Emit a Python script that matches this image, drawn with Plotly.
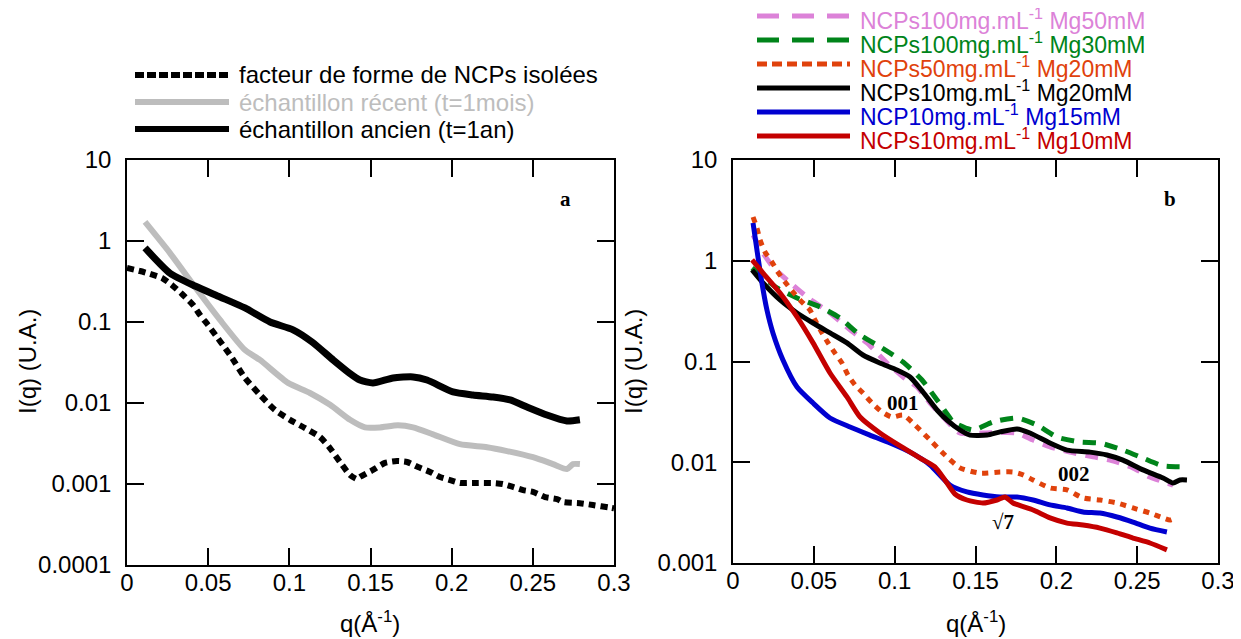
import plotly.graph_objects as go

# ---------------- Panel a data ----------------
q_form = [0.0, 0.008, 0.0142, 0.0216, 0.0277, 0.0339, 0.0407, 0.045, 0.0499, 0.0554, 0.0604, 0.0647,
          0.0727, 0.0819, 0.0912, 0.1004, 0.1097, 0.1189, 0.125, 0.1312, 0.1374, 0.1417, 0.1435,
          0.1515, 0.1589, 0.1663, 0.1725, 0.1793, 0.1867, 0.1928, 0.199, 0.2051, 0.2131, 0.2255,
          0.2316, 0.2378, 0.244, 0.2501, 0.2575, 0.2649, 0.2686, 0.279, 0.287, 0.2975, 0.3]
I_form = [0.464, 0.426, 0.392, 0.349, 0.286, 0.222, 0.162, 0.122, 0.0918, 0.0653, 0.0478, 0.036,
          0.0204, 0.0126, 0.0082, 0.0062, 0.0049, 0.0038, 0.00278, 0.00187, 0.00129, 0.00115, 0.00122,
          0.00149, 0.00182, 0.00192, 0.00187, 0.00162, 0.00141, 0.00122, 0.00112, 0.00103, 0.00103, 0.00103,
          0.0010, 0.00092, 0.00084, 0.0008, 0.00069, 0.00065, 0.0006, 0.00058, 0.00055, 0.00051, 0.0005]

q_recent = [0.0111, 0.0265, 0.0419, 0.0573, 0.0727, 0.0819, 0.0992, 0.1127, 0.1251, 0.1374, 0.1466,
            0.1558, 0.1669, 0.1762, 0.1885, 0.2051, 0.2218, 0.2341, 0.2501, 0.2624, 0.271, 0.2747, 0.279]
I_recent = [1.72, 0.71, 0.27, 0.106, 0.045, 0.034, 0.0177, 0.0133, 0.0095, 0.0062, 0.0050,
            0.0050, 0.0053, 0.0050, 0.0041, 0.0031, 0.00285, 0.00255, 0.00214, 0.00176, 0.00153, 0.00176, 0.00176]

q_ancien = [0.0111, 0.0265, 0.0419, 0.0573, 0.0727, 0.0881, 0.1023, 0.114, 0.127, 0.137, 0.1435, 0.1515,
            0.1639, 0.1762, 0.1848, 0.2008, 0.2131, 0.2255, 0.236, 0.2464, 0.2587, 0.271, 0.279]
I_ancien = [0.82, 0.40, 0.278, 0.204, 0.149, 0.100, 0.080, 0.0566, 0.034, 0.0234, 0.0192, 0.0177,
            0.0204, 0.0210, 0.0192, 0.0137, 0.01256, 0.01186, 0.0109, 0.00893, 0.00711, 0.0060, 0.0062]

# ---------------- Panel b data ----------------
q_mg50 = [0.0124, 0.0186, 0.0247, 0.0334, 0.0458, 0.06, 0.0724, 0.0829, 0.0953, 0.1052, 0.1138, 0.1219,
          0.1299, 0.1404, 0.1546, 0.1757, 0.1856, 0.1961, 0.2084, 0.2227, 0.2332, 0.2474, 0.2579, 0.2722]
I_mg50 = [1.80, 1.19, 0.867, 0.644, 0.437, 0.303, 0.206, 0.153, 0.0967, 0.0702, 0.0558, 0.0387,
          0.0281, 0.0195, 0.0195, 0.0195, 0.0166, 0.0142, 0.0126, 0.0113, 0.0105, 0.0088, 0.00714, 0.00594]

q_mg30 = [0.0118, 0.0272, 0.0396, 0.0538, 0.0662, 0.0786, 0.0922, 0.1052, 0.1169, 0.1262, 0.1342, 0.1361,
          0.1485, 0.1608, 0.1757, 0.188, 0.2004, 0.2146, 0.227, 0.2412, 0.2536, 0.266, 0.2783]
I_mg30 = [0.847, 0.537, 0.427, 0.348, 0.270, 0.183, 0.136, 0.0989, 0.0655, 0.0415, 0.0275, 0.0251,
          0.0209, 0.0251, 0.0275, 0.0234, 0.0178, 0.0159, 0.0155, 0.0132, 0.0110, 0.0092, 0.0090]

q_50mg20 = [0.0124, 0.0148, 0.0167, 0.0198, 0.0241, 0.0278, 0.0322, 0.0371, 0.0414, 0.0476, 0.0507, 0.0551,
            0.0588, 0.0631, 0.0674, 0.0711, 0.0755, 0.0804, 0.086, 0.0922, 0.0983, 0.1052, 0.1126, 0.1219,
            0.1311, 0.1404, 0.1528, 0.1652, 0.1732, 0.1794, 0.1856, 0.1961, 0.2066, 0.2165, 0.227, 0.2375,
            0.2474, 0.2579, 0.266, 0.2703, 0.2746]
I_50mg20 = [2.72, 2.11, 1.61, 1.22, 0.97, 0.773, 0.615, 0.490, 0.408, 0.324, 0.258, 0.192,
            0.153, 0.121, 0.0967, 0.0735, 0.0585, 0.0486, 0.0387, 0.0315, 0.0281, 0.0294, 0.0234, 0.0166,
            0.0118, 0.0088, 0.0078, 0.0080, 0.0080, 0.0075, 0.00667, 0.00555, 0.00531, 0.00442, 0.00422, 0.00394,
            0.00352, 0.00313, 0.0028, 0.00267, 0.00286]

q_10mg20 = [0.0118, 0.0186, 0.0291, 0.0396, 0.0495, 0.06, 0.0705, 0.0804, 0.0909, 0.1014, 0.1095, 0.1175,
            0.1262, 0.1324, 0.1404, 0.1466, 0.1571, 0.1652, 0.1757, 0.1837, 0.1961, 0.2066, 0.2208, 0.2313,
            0.2412, 0.2536, 0.266, 0.2722, 0.2765, 0.2808]
I_10mg20 = [0.81, 0.601, 0.408, 0.303, 0.241, 0.192, 0.153, 0.116, 0.0967, 0.0824, 0.0702, 0.0498,
            0.033, 0.0262, 0.0209, 0.0186, 0.0186, 0.0200, 0.0214, 0.0195, 0.0155, 0.0132, 0.0126, 0.0118,
            0.0105, 0.0084, 0.00698, 0.00622, 0.00667, 0.00667]

q_mg15 = [0.0124, 0.0148, 0.0179, 0.021, 0.0247, 0.0309, 0.0396, 0.0495, 0.06, 0.0724, 0.0847, 0.0971,
          0.1095, 0.1219, 0.1342, 0.1447, 0.1546, 0.1652, 0.1757, 0.1856, 0.1961, 0.2066, 0.2165, 0.227,
          0.2375, 0.2474, 0.2579, 0.2684]
I_mg15 = [2.37, 1.28, 0.601, 0.324, 0.192, 0.1035, 0.0558, 0.0387, 0.0275, 0.0224, 0.0186, 0.0155,
          0.0126, 0.0094, 0.00594, 0.00507, 0.00473, 0.00452, 0.00452, 0.00422, 0.00377, 0.00352, 0.00321, 0.00313,
          0.00286, 0.00255, 0.00222, 0.00203]

q_mg10 = [0.0118, 0.0186, 0.0291, 0.0396, 0.0495, 0.06, 0.0705, 0.0786, 0.0909, 0.1033, 0.1157, 0.1249,
          0.1311, 0.1373, 0.1447, 0.1546, 0.1633, 0.1682, 0.1732, 0.1856, 0.1961, 0.2066, 0.2165, 0.227,
          0.2375, 0.2474, 0.2579, 0.2684]
I_mg10 = [1.02, 0.755, 0.479, 0.277, 0.153, 0.0769, 0.0445, 0.0281, 0.0195, 0.0145, 0.0110, 0.0090,
          0.00667, 0.00484, 0.00422, 0.00394, 0.00422, 0.00452, 0.00394, 0.00336, 0.0028, 0.00249, 0.00238, 0.00222,
          0.00199, 0.00177, 0.00158, 0.00135]

# tick labels
x_ticks = [0, 0.05, 0.1, 0.15, 0.2, 0.25, 0.3]
x_ticktext = ["0", "0.05", "0.1", "0.15", "0.2", "0.25", "0.3"]
ya_ticks = [10, 1, 0.1, 0.01, 0.001, 0.0001]
ya_ticktext = ["10", "1", "0.1", "0.01", "0.001", "0.0001"]
yb_ticks = [10, 1, 0.1, 0.01, 0.001]
yb_ticktext = ["10", "1", "0.1", "0.01", "0.001"]

legend_a = ["facteur de forme de NCPs isolées", "échantillon récent (t=1mois)", "échantillon ancien (t=1an)"]
legend_b = ["NCPs100mg.mL<sup>-1</sup> Mg50mM", "NCPs100mg.mL<sup>-1</sup> Mg30mM",
            "NCPs50mg.mL<sup>-1</sup> Mg20mM", "NCPs10mg.mL<sup>-1</sup> Mg20mM",
            "NCP10mg.mL<sup>-1</sup> Mg15mM", "NCPs10mg.mL<sup>-1</sup> Mg10mM"]

# the page draws the figure 8px in from the top-left corner: shift layout positions to compensate
OFF = 8
W, H = 1241, 639
FONT = "Liberation Sans, Arial, sans-serif"
SERIF = "Liberation Serif, Times New Roman, serif"

GRAY = "#bdbdbd"
PINK = "#dc82d8"
GREEN = "#00841a"
ORANGE = "#e0420c"
BLUE = "#0000d0"
RED = "#c40000"

def px(x):
    return (x - OFF) / W

def py(y):
    return 1 - (y - OFF) / H

fig = go.Figure()

# panel a traces
style_a = [
    (q_recent, I_recent, dict(color=GRAY, width=6)),
    (q_form, I_form, dict(color="black", width=6, dash="7px,5px")),
    (q_ancien, I_ancien, dict(color="black", width=7)),
]
for q, I, ln in style_a:
    ln = dict(ln, shape="spline", smoothing=0.6)
    fig.add_trace(go.Scatter(x=q, y=I, mode="lines", line=ln, xaxis="x", yaxis="y",
                             showlegend=False, hoverinfo="skip"))

# panel b traces
style_b = [
    (q_mg50, I_mg50, dict(color=PINK, width=5, dash="13px,9px")),
    (q_mg30, I_mg30, dict(color=GREEN, width=5, dash="13px,9px")),
    (q_50mg20, I_50mg20, dict(color=ORANGE, width=5, dash="6px,6px")),
    (q_10mg20, I_10mg20, dict(color="black", width=5)),
    (q_mg15, I_mg15, dict(color=BLUE, width=5)),
    (q_mg10, I_mg10, dict(color=RED, width=5)),
]
for q, I, ln in style_b:
    ln = dict(ln, shape="spline", smoothing=0.6)
    fig.add_trace(go.Scatter(x=q, y=I, mode="lines", line=ln, xaxis="x2", yaxis="y2",
                             showlegend=False, hoverinfo="skip"))

axis_common = dict(showline=True, linecolor="black", linewidth=1.5, mirror="ticks",
                   ticks="inside", ticklen=17, tickwidth=1.5, tickcolor="black",
                   showgrid=False, zeroline=False, automargin=False,
                   tickfont=dict(family=FONT, size=24, color="black"))

fig.update_layout(
    template="none",
    width=W, height=H,
    margin=dict(l=0, r=0, t=0, b=0, pad=0, autoexpand=False),
    paper_bgcolor="white", plot_bgcolor="white",
    showlegend=False,
    xaxis=dict(domain=[px(127), px(614)], range=[0, 0.3], tickvals=x_ticks, ticktext=x_ticktext,
               anchor="y", ticklabelstandoff=-5, **axis_common),
    yaxis=dict(domain=[py(565), py(160)], type="log", range=[-4, 1], tickvals=ya_ticks,
               ticktext=ya_ticktext, anchor="x", ticklabelstandoff=9, **axis_common),
    xaxis2=dict(domain=[px(733), px(1218)], range=[0, 0.3], tickvals=x_ticks, ticktext=x_ticktext,
                anchor="y2", ticklabelstandoff=-5, **axis_common),
    yaxis2=dict(domain=[py(563), py(160)], type="log", range=[-3, 1], tickvals=yb_ticks,
                ticktext=yb_ticktext, anchor="x2", ticklabelstandoff=9, **axis_common),
)

shapes = []
annotations = []

# legend a
leg_a_styles = [dict(color="black", width=6, dash="9px,3px"),
                dict(color=GRAY, width=6),
                dict(color="black", width=6)]
leg_a_colors = ["black", GRAY, "black"]
for i, (label, st, col) in enumerate(zip(legend_a, leg_a_styles, leg_a_colors)):
    yy = 75 + i * 27
    shapes.append(dict(type="line", xref="paper", yref="paper", x0=px(135), x1=px(229),
                       y0=py(yy), y1=py(yy), line=st))
    annotations.append(dict(text=label, xref="paper", yref="paper", x=px(237), y=py(yy),
                            xanchor="left", yanchor="middle", showarrow=False,
                            font=dict(family=FONT, size=24, color=col)))

# legend b
leg_b_styles = [dict(color=PINK, width=5, dash="22px,13px"),
                dict(color=GREEN, width=5, dash="22px,13px"),
                dict(color=ORANGE, width=5, dash="10px,5px"),
                dict(color="black", width=5),
                dict(color=BLUE, width=5),
                dict(color=RED, width=5)]
leg_b_colors = [PINK, GREEN, ORANGE, "black", BLUE, RED]
for i, (label, st, col) in enumerate(zip(legend_b, leg_b_styles, leg_b_colors)):
    yy = 16 + i * 24
    shapes.append(dict(type="line", xref="paper", yref="paper", x0=px(757), x1=px(850),
                       y0=py(yy), y1=py(yy), line=st))
    annotations.append(dict(text=label, xref="paper", yref="paper", x=px(858), y=py(yy + 3),
                            xanchor="left", yanchor="middle", showarrow=False,
                            font=dict(family=FONT, size=23, color=col)))

# axis titles
for xx in (27, 633):
    annotations.append(dict(text="I(q) (U.A.)", xref="paper", yref="paper", x=px(xx), y=py(362),
                            textangle=-90, showarrow=False, xanchor="center", yanchor="middle",
                            font=dict(family=FONT, size=24, color="black")))
for xx in (370, 976):
    annotations.append(dict(text="q(Å<sup>-1</sup>)", xref="paper", yref="paper", x=px(xx), y=py(622),
                            showarrow=False, xanchor="center", yanchor="middle",
                            font=dict(family=FONT, size=24, color="black")))

# panel labels and peak labels
for txt, xx, yy in [("a", 565, 199), ("b", 1170, 199), ("001", 903, 403), ("002", 1074, 474), ("√7", 1003, 522)]:
    annotations.append(dict(text="<b>" + txt + "</b>", xref="paper", yref="paper", x=px(xx), y=py(yy),
                            showarrow=False, xanchor="center", yanchor="middle",
                            font=dict(family=SERIF, size=21, color="black")))

fig.update_layout(shapes=shapes, annotations=annotations)
fig.write_html("out.html")
